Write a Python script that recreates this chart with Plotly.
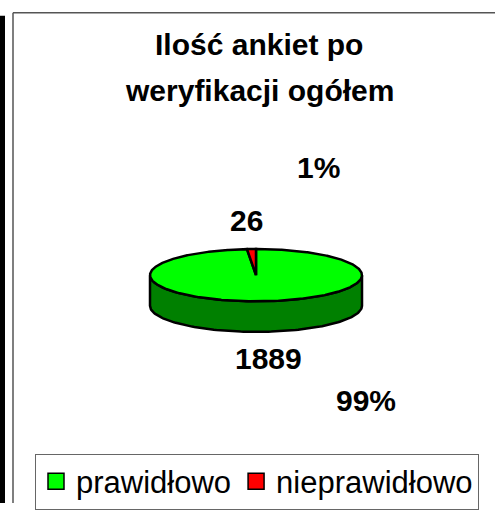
import numpy as np
import plotly.graph_objects as go

# ---- data ----
title_lines = ["Ilość ankiet po", "weryfikacji ogółem"]
categories = ["prawidłowo", "nieprawidłowo"]
counts = [1889, 26]
percent_labels = ["99%", "1%"]
top_colors = ["#00FF00", "#FF0000"]
side_colors = ["#008000", "#800000"]

# ---- geometry (pixel space) ----
W, H = 495, 510
cx, cy = 256, 279
a, b = 106, 26.5
depth = 31
FONT = "Liberation Sans, Arial, sans-serif"

total = sum(counts)
fracs = [c / total for c in counts]

def pt(phi_deg, dy=0.0):
    p = np.radians(phi_deg)
    return cx + a * np.sin(p), cy - b * np.cos(p) + dy

fig = go.Figure()

# slice angles (clockwise from 12 o'clock)
starts, ends = [], []
acc = 0.0
for f in fracs:
    starts.append(acc * 360)
    acc += f
    ends.append(acc * 360)

# side walls (front half: 90..270 degrees)
for i in range(len(counts)):
    s = max(starts[i], 90)
    e = min(ends[i], 270)
    if e <= s:
        continue
    ang = np.linspace(s, e, 120)
    xs_top, ys_top = pt(ang)
    xs_bot, ys_bot = pt(ang[::-1], depth)
    xs = np.concatenate([xs_top, xs_bot, xs_top[:1]])
    ys = np.concatenate([ys_top, ys_bot, ys_top[:1]])
    fig.add_trace(go.Scatter(x=xs, y=ys, mode="lines", fill="toself",
                             fillcolor=side_colors[i],
                             line=dict(color="black", width=2.5),
                             hoverinfo="skip", showlegend=False))

# top faces
for i in range(len(counts)):
    ang = np.linspace(starts[i], ends[i], max(3, int((ends[i] - starts[i]) * 2)))
    xs_arc, ys_arc = pt(ang)
    xs = np.concatenate([[cx], xs_arc, [cx]])
    ys = np.concatenate([[cy], ys_arc, [cy]])
    fig.add_trace(go.Scatter(x=xs, y=ys, mode="lines", fill="toself",
                             fillcolor=top_colors[i],
                             line=dict(color="black", width=2.5),
                             name=categories[i],
                             hovertemplate=f"{categories[i]}: {counts[i]} ({percent_labels[i]})<extra></extra>",
                             showlegend=False))

# legend entries
for i in range(len(counts)):
    fig.add_trace(go.Scatter(x=[None], y=[None], mode="markers", name=categories[i],
                             marker=dict(symbol="square", size=16, color=top_colors[i],
                                         line=dict(color="black", width=1.5))))

# data labels
label_pos = {
    "count": [(268, 363), (246, 224)],
    "pct": [(366, 406), (318, 170)],
}
for i in range(len(counts)):
    x, y = label_pos["count"][i]
    fig.add_annotation(x=x, y=y, text=f"<b>{counts[i]}</b>", showarrow=False,
                       font=dict(family=FONT, size=30, color="black"))
    x, y = label_pos["pct"][i]
    fig.add_annotation(x=x, y=y, text=f"<b>{percent_labels[i]}</b>", showarrow=False,
                       font=dict(family=FONT, size=30, color="black"))

# title
for k, (line, y) in enumerate(zip(title_lines, [45, 92])):
    fig.add_annotation(x=259, y=y, text=f"<b>{line}</b>", showarrow=False,
                       font=dict(family=FONT, size=30, color="black"))

# frame decorations
fig.add_shape(type="rect", xref="x", yref="y", x0=0, x1=5, y0=16, y1=510,
              fillcolor="black", line=dict(width=0), layer="below")
fig.add_shape(type="line", xref="x", yref="y", x0=13, x1=495, y0=13, y1=13,
              line=dict(color="#555555", width=1.5))
fig.add_shape(type="line", xref="x", yref="y", x0=13, x1=13, y0=13, y1=510,
              line=dict(color="#555555", width=1.5))

fig.update_layout(
    width=W, height=H, autosize=False,
    margin=dict(l=0, r=0, t=0, b=0),
    paper_bgcolor="white", plot_bgcolor="white",
    xaxis=dict(range=[0, W], visible=False, fixedrange=True),
    yaxis=dict(range=[H, 0], visible=False, fixedrange=True),
    legend=dict(orientation="h", x=257 / W, xanchor="center",
                y=1 - 460 / H, yanchor="top",
                bordercolor="#666666", borderwidth=1, bgcolor="white",
                font=dict(family=FONT, size=31, color="black"),
                itemclick=False, itemdoubleclick=False),
    showlegend=True,
)

fig.write_html("out.html", config={"displayModeBar": False},
               post_script="document.body.style.margin='0';document.body.style.overflow='hidden';")
